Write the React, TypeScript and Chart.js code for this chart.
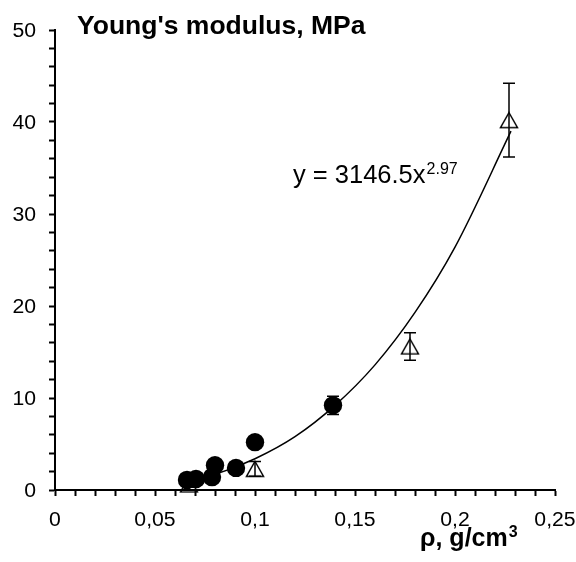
import React, { useEffect, useRef } from 'react';
import { Chart, registerables } from 'chart.js';

Chart.register(...registerables);

// ---- data ----
const circleX = [0.066, 0.0705, 0.0785, 0.08, 0.0905, 0.1, 0.139];
const circleY = [1.1, 1.2, 1.4, 2.7, 2.4, 5.2, 9.2];
const circleErr = [0, 0, 0, 0, 0, 0, 1.0];

const triX = [0.067, 0.1, 0.1775, 0.227];
const triY = [0.6, 2.3, 15.6, 40.2];
const triErr = [0.3, 0.8, 1.5, 4.0];

const trendX = [0.066, 0.08, 0.1, 0.12, 0.14, 0.16, 0.18, 0.2, 0.228];
const trendY = [1.0, 1.7, 3.4, 5.8, 9.2, 13.6, 19.3, 26.4, 39.0];

const xTickValues = [0, 0.05, 0.1, 0.15, 0.2, 0.25];
const xTickLabels = ['0', '0,05', '0,1', '0,15', '0,2', '0,25'];
const yTickValues = [0, 10, 20, 30, 40, 50];
const yTickLabels = ['0', '10', '20', '30', '40', '50'];

const yTitle = "Young's modulus, MPa";
const xTitle = 'ρ, g/cm';
const xTitleSup = '3';
const eqMain = 'y = 3146.5x';
const eqSup = '2.97';

const FONT = '"Liberation Sans", Arial, sans-serif';
const TICK_STRETCH = 1.06;

function makeTriangle(): HTMLCanvasElement {
  const c = document.createElement('canvas');
  c.width = 20;
  c.height = 18;
  const ctx = c.getContext('2d')!;
  ctx.strokeStyle = '#000';
  ctx.lineWidth = 1.5;
  ctx.beginPath();
  ctx.moveTo(10, 1.5);
  ctx.lineTo(18.5, 16.5);
  ctx.lineTo(1.5, 16.5);
  ctx.closePath();
  ctx.stroke();
  return c;
}

function drawErrors(chart: any, xs: number[], ys: number[], errs: number[], cap: number) {
  const ctx = chart.ctx;
  const xs_ = chart.scales.x;
  const ys_ = chart.scales.y;
  ctx.save();
  ctx.strokeStyle = '#000';
  ctx.lineWidth = 1.5;
  xs.forEach((x, i) => {
    const e = errs[i];
    if (!e) return;
    const px = xs_.getPixelForValue(x);
    const top = ys_.getPixelForValue(ys[i] + e);
    const bot = ys_.getPixelForValue(ys[i] - e);
    ctx.beginPath();
    ctx.moveTo(px, top);
    ctx.lineTo(px, bot);
    ctx.moveTo(px - cap, top);
    ctx.lineTo(px + cap, top);
    ctx.moveTo(px - cap, bot);
    ctx.lineTo(px + cap, bot);
    ctx.stroke();
  });
  ctx.restore();
}

const errorBarPlugin = {
  id: 'errorBars',
  beforeDatasetDraw(chart: any, args: any) {
    if (args.index === 1) drawErrors(chart, triX, triY, triErr, 6);
    if (args.index === 2) drawErrors(chart, circleX, circleY, circleErr, 6);
  },
};

function stretchedText(ctx: CanvasRenderingContext2D, text: string, x: number, y: number, align: 'left' | 'right' | 'center', sx: number) {
  ctx.save();
  ctx.translate(x, y);
  ctx.scale(sx, 1);
  ctx.textAlign = align;
  ctx.fillText(text, 0, 0);
  ctx.restore();
}

const textPlugin = {
  id: 'texts',
  afterDraw(chart: any) {
    const ctx: CanvasRenderingContext2D = chart.ctx;
    const sx = chart.scales.x;
    const sy = chart.scales.y;
    ctx.save();
    ctx.fillStyle = '#000';
    ctx.textBaseline = 'alphabetic';

    // tick labels
    ctx.font = `20px ${FONT}`;
    yTickValues.forEach((v, i) => {
      const py = sy.getPixelForValue(v);
      stretchedText(ctx, yTickLabels[i], 36, py + 7, 'right', TICK_STRETCH);
    });
    xTickValues.forEach((v, i) => {
      const px = sx.getPixelForValue(v);
      stretchedText(ctx, xTickLabels[i], px, 526, 'center', TICK_STRETCH);
    });

    // y title (top)
    ctx.font = `bold 26.5px ${FONT}`;
    ctx.textAlign = 'left';
    ctx.fillText(yTitle, 77, 34);

    // x title
    ctx.font = `bold 25px ${FONT}`;
    ctx.fillText(xTitle, 420, 546);
    const w1 = ctx.measureText(xTitle).width;
    ctx.font = `bold 16px ${FONT}`;
    ctx.fillText(xTitleSup, 420 + w1 + 1, 537);

    // equation
    ctx.font = `25.5px ${FONT}`;
    ctx.fillText(eqMain, 293, 183);
    const w2 = ctx.measureText(eqMain).width;
    ctx.font = `16px ${FONT}`;
    ctx.fillText(eqSup, 293 + w2 + 1, 174);

    ctx.restore();
  },
};

export default function App() {
  const ref = useRef<HTMLCanvasElement | null>(null);

  useEffect(() => {
    if (!ref.current) return;
    const tri = makeTriangle();
    const axisCommon = {
      grid: {
        drawOnChartArea: false,
        drawTicks: true,
        tickLength: 6,
        tickColor: '#000',
        tickWidth: 2,
      },
      border: { display: true, color: '#000', width: 2 },
    };
    const chart = new Chart(ref.current, {
      type: 'scatter',
      data: {
        datasets: [
          {
            label: 'trend',
            data: trendX.map((x, i) => ({ x, y: trendY[i] })),
            showLine: true,
            borderColor: '#000',
            borderWidth: 1.5,
            pointRadius: 0,
            cubicInterpolationMode: 'monotone',
            fill: false,
            order: 3,
            clip: false,
          } as any,
          {
            label: 'triangles',
            data: triX.map((x, i) => ({ x, y: triY[i] })),
            pointStyle: tri,
            pointRadius: 10,
            order: 2,
            clip: false,
          } as any,
          {
            label: 'circles',
            data: circleX.map((x, i) => ({ x, y: circleY[i] })),
            pointStyle: 'circle',
            pointRadius: 9.2,
            backgroundColor: '#000',
            borderColor: '#000',
            borderWidth: 0,
            order: 1,
            clip: false,
          } as any,
        ],
      },
      options: {
        responsive: false,
        animation: false,
        devicePixelRatio: 1,
        layout: { padding: { top: 30, right: 21, left: 0, bottom: 0 } },
        plugins: { legend: { display: false }, tooltip: { enabled: false } },
        scales: {
          x: {
            type: 'linear',
            min: 0,
            max: 0.25,
            ticks: { stepSize: 0.01, display: false },
            ...axisCommon,
            afterFit: (s: any) => {
              s.height = 72;
            },
          } as any,
          y: {
            type: 'linear',
            min: 0,
            max: 50,
            ticks: { stepSize: 2, display: false },
            ...axisCommon,
            afterFit: (s: any) => {
              s.width = 55;
            },
          } as any,
        },
      },
      plugins: [errorBarPlugin, textPlugin],
    });
    return () => chart.destroy();
  }, []);

  return (
    <div style={{ position: 'absolute', left: 0, top: 0, width: 576, height: 562, background: '#fff' }}>
      <canvas ref={ref} width={576} height={562} style={{ display: 'block' }} />
    </div>
  );
}
